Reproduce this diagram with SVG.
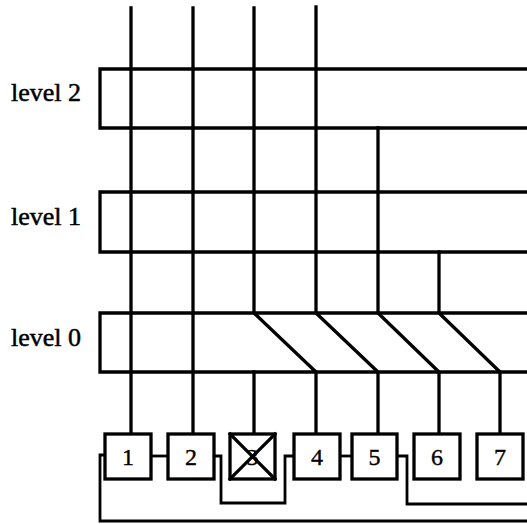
<svg xmlns="http://www.w3.org/2000/svg" width="527" height="524" viewBox="0 0 527 524">
<style>
.ln{fill:none;stroke:#000;stroke-width:3.3;stroke-linejoin:miter;stroke-linecap:square}
.cn{fill:none;stroke:#000;stroke-width:2.8;stroke-linejoin:miter}
.bx{fill:#fff;stroke:#000;stroke-width:3.3}
.lbl{font-family:"Liberation Serif","Times New Roman",serif;font-size:26px;fill:#000;stroke:#000;stroke-width:0.5}
.num{font-family:"Liberation Serif","Times New Roman",serif;font-size:24px;fill:#000;stroke:#000;stroke-width:0.4;text-anchor:middle}
</style>
<rect width="527" height="524" fill="#fff"/>
<g id="level2">
<path class="ln" d="M527,69 H100 V128 H527"/>
<text class="lbl" x="11" y="101">level 2</text>
</g>
<g id="level1">
<path class="ln" d="M527,192 H100 V252 H527"/>
<text class="lbl" x="11" y="225">level 1</text>
</g>
<g id="level0">
<path class="ln" d="M527,313 H100 V372 H527"/>
<text class="lbl" x="11" y="346">level 0</text>
</g>
<g id="connectors">
<path class="ln" d="M131,8 V434"/>
<path class="ln" d="M193,8 V434"/>
<path class="ln" d="M254,8 V313 L316,372 V434"/>
<path class="ln" d="M316,7 V313 L378,372 V434"/>
<path class="ln" d="M378,128 V313 L439,372 V434"/>
<path class="ln" d="M439,252 V313 L500,372 V434"/>
<path class="ln" d="M254,372 V434"/>
<path class="cn" d="M152,456 H167"/>
<path class="cn" d="M214,456 H221 V503 H285 V456 H294"/>
<path class="cn" d="M340,456 H352"/>
<path class="cn" d="M397,456 H407 V504 H527"/>
<path class="cn" d="M105,455 H100 V521 H527"/>
</g>
<g id="box1"><rect class="bx" x="105" y="434" width="46" height="45"/><text class="num" x="128" y="465">1</text></g>
<g id="box2"><rect class="bx" x="168" y="434" width="46" height="45"/><text class="num" x="191" y="465">2</text></g>
<g id="box3"><rect class="bx" x="230" y="434" width="45" height="45"/><text class="num" x="252.5" y="465">3</text><path class="ln" d="M230,434 L275,479 M275,434 L230,479"/></g>
<g id="box4"><rect class="bx" x="294" y="434" width="46" height="45"/><text class="num" x="317" y="465">4</text></g>
<g id="box5"><rect class="bx" x="352" y="434" width="45" height="45"/><text class="num" x="374.5" y="465">5</text></g>
<g id="box6"><rect class="bx" x="414" y="434" width="46" height="45"/><text class="num" x="437" y="465">6</text></g>
<g id="box7"><rect class="bx" x="477" y="434" width="46" height="45"/><text class="num" x="500" y="465">7</text></g>
</svg>
